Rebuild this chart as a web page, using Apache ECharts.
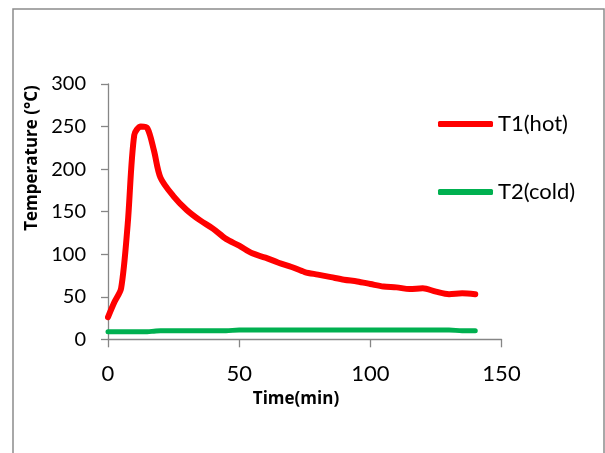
<!DOCTYPE html>
<html>
<head>
<meta charset="utf-8">
<script src="https://cdn.jsdelivr.net/npm/echarts@6/dist/echarts.min.js"></script>
<style>
  html, body { margin: 0; padding: 0; background: #fff; }
  #chart { width: 605px; height: 453px; }
</style>
</head>
<body>
<div id="chart"></div>
<script>
// time in minutes
const times = [0, 2.5, 5, 7.5, 10, 12.5, 15, 17.5, 20, 25, 30, 35, 40, 45, 50, 55, 60, 65, 70,
  75, 80, 85, 90, 95, 100, 105, 110, 115, 120, 125, 130, 135, 140];
// T1 (hot) temperature
const hotTemps = [26, 44, 60, 135, 240, 250, 248, 222, 190, 168, 152, 140, 130, 118, 110, 101, 96, 90, 85,
  79, 76, 73, 70, 68, 65, 62, 61, 59, 60, 56, 53, 54, 53];
// T2 (cold) temperature
const coldTemps = [9, 9, 9, 9, 9, 9, 9, 9.5, 10, 10, 10, 10, 10, 10, 11, 11, 11, 11, 11,
  11, 11, 11, 11, 11, 11, 11, 11, 11, 11, 11, 11, 10, 10];
const seriesNames = ['T1(hot)', 'T2(cold)'];
const xTicks = [0, 50, 100, 150];
const yTicks = [0, 50, 100, 150, 200, 250, 300];

const font = 'Lato, "Open Sans", sans-serif';
const nameFont = '"Open Sans", Lato, sans-serif';
const axisGray = '#868686';

function pairs(ys) {
  return times.map((t, i) => [t, ys[i]]);
}

const myChart = echarts.init(document.getElementById('chart'), null, { renderer: 'canvas' });

const option = {
  animation: false,
  backgroundColor: '#fff',
  color: ['#ff0000', '#00b050'],
  textStyle: { fontFamily: font },
  grid: { left: 108, top: 84, right: 103.5, bottom: 113.7 },
  legend: {
    data: seriesNames,
    orient: 'vertical',
    left: 433,
    top: 107,
    icon: 'roundRect',
    itemWidth: 55,
    itemHeight: 6,
    itemGap: 44,
    textStyle: { fontFamily: font, fontSize: 22, color: '#000', lineHeight: 24 }
  },
  xAxis: {
    type: 'value',
    min: xTicks[0],
    max: xTicks[xTicks.length - 1],
    interval: 50,
    axisLine: { show: true, lineStyle: { color: axisGray, width: 1.3 } },
    axisTick: { show: true, length: 8, lineStyle: { color: axisGray, width: 1.3 } },
    splitLine: { show: false },
    axisLabel: { fontFamily: font, fontSize: 22, color: '#000', margin: 24 }
  },
  yAxis: {
    type: 'value',
    min: yTicks[0],
    max: yTicks[yTicks.length - 1],
    interval: 50,
    axisLine: { show: true, lineStyle: { color: axisGray, width: 1.3 } },
    axisTick: { show: true, length: 7, lineStyle: { color: axisGray, width: 1.3 } },
    splitLine: { show: false },
    axisLabel: { fontFamily: font, fontSize: 20, color: '#000', margin: 22 }
  },
  graphic: [
    {
      type: 'rect',
      shape: { x: 13, y: 9, width: 591, height: 470 },
      style: { fill: 'none', stroke: '#8c8c8c', lineWidth: 1.5 },
      silent: true
    },
    {
      type: 'text',
      x: 32, y: 158,
      rotation: Math.PI / 2,
      style: {
        text: 'Temperature (°C)',
        fontFamily: nameFont, fontSize: 17, fontWeight: 'bold', fill: '#000',
        textAlign: 'center', textVerticalAlign: 'middle'
      }
    },
    {
      type: 'text',
      x: 296, y: 399,
      style: {
        text: 'Time(min)',
        fontFamily: nameFont, fontSize: 17, fontWeight: 'bold', fill: '#000',
        textAlign: 'center', textVerticalAlign: 'middle'
      }
    }
  ],
  series: [
    {
      name: seriesNames[0],
      type: 'line',
      data: pairs(hotTemps),
      smooth: 0.3,
      showSymbol: false,
      symbol: 'none',
      lineStyle: { width: 6, color: '#ff0000', cap: 'round', join: 'round' }
    },
    {
      name: seriesNames[1],
      type: 'line',
      data: pairs(coldTemps),
      smooth: 0.3,
      showSymbol: false,
      symbol: 'none',
      lineStyle: { width: 5, color: '#00b050', cap: 'round', join: 'round' }
    }
  ]
};

myChart.setOption(option);
</script>
</body>
</html>
